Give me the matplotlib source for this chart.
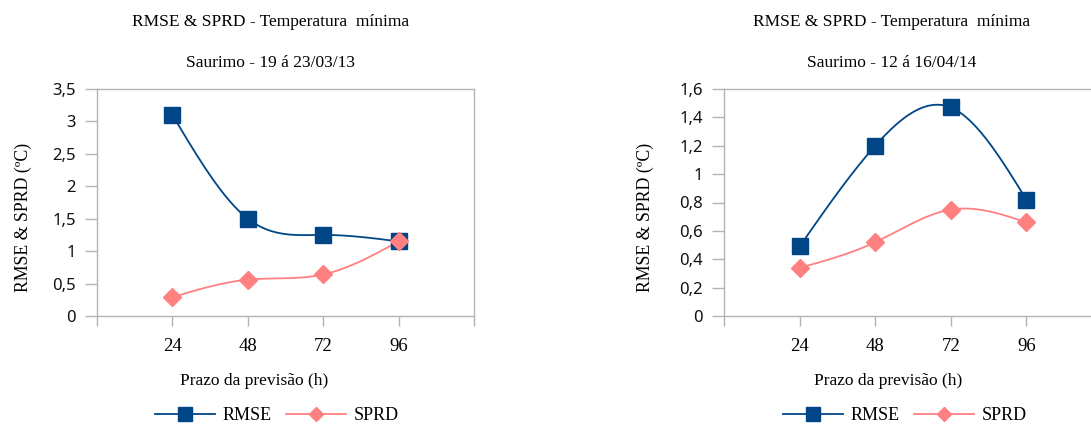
import numpy as np
import matplotlib
matplotlib.use("Agg")
import matplotlib.pyplot as plt
from matplotlib.lines import Line2D

# ---- data ----
categories = ["24", "48", "72", "96"]
rmse_2013 = [3.10, 1.50, 1.25, 1.15]
sprd_2013 = [0.29, 0.56, 0.64, 1.15]
rmse_2014 = [0.49, 1.20, 1.47, 0.82]
sprd_2014 = [0.34, 0.52, 0.75, 0.66]
title_main = "RMSE & SPRD - Temperatura  mínima"
subtitle_2013 = "Saurimo - 19 á 23/03/13"
subtitle_2014 = "Saurimo - 12 á 16/04/14"
xlabel = "Prazo da previsão (h)"
ylabel = "RMSE & SPRD (ºC)"
yticks_2013 = [0, 0.5, 1, 1.5, 2, 2.5, 3, 3.5]
yticks_2014 = [0, 0.2, 0.4, 0.6, 0.8, 1.0, 1.2, 1.4, 1.6]

BLUE = "#004586"
PINK = "#ff8080"
GRID = "#b3b3b3"
SERIF = "Liberation Serif"
SANS = "Noto Sans"

W, H = 1091, 425


def natural_spline(x, y, n=200):
    x = np.asarray(x, float)
    y = np.asarray(y, float)
    m = len(x)
    h = np.diff(x)
    A = np.zeros((m, m))
    b = np.zeros(m)
    A[0, 0] = 1
    A[-1, -1] = 1
    for i in range(1, m - 1):
        A[i, i - 1] = h[i - 1]
        A[i, i] = 2 * (h[i - 1] + h[i])
        A[i, i + 1] = h[i]
        b[i] = 3 * ((y[i + 1] - y[i]) / h[i] - (y[i] - y[i - 1]) / h[i - 1])
    c = np.linalg.solve(A, b)
    xs = np.linspace(x[0], x[-1], n)
    ys = np.empty_like(xs)
    for k, xv in enumerate(xs):
        i = min(np.searchsorted(x, xv, side="right") - 1, m - 2)
        dx = xv - x[i]
        bi = (y[i + 1] - y[i]) / h[i] - h[i] * (2 * c[i] + c[i + 1]) / 3
        di = (c[i + 1] - c[i]) / (3 * h[i])
        ys[k] = y[i] + bi * dx + c[i] * dx ** 2 + di * dx ** 3
    return xs, ys


fig = plt.figure(figsize=(W / 100, H / 100), dpi=100)


def px(x):
    return x / W


def py(y):
    return 1 - y / H


def make_panel(left_px, right_px, rmse, sprd, yticks, subtitle,
               title_cx, xlabel_cx, ylabel_x, legend_x0):
    top_px, bot_px = 89, 316
    ax = fig.add_axes([px(left_px), py(bot_px), px(right_px - left_px),
                       (bot_px - top_px) / H])
    xpos = np.arange(1, len(categories) + 1)
    xs, ys = natural_spline(xpos, rmse)
    ax.plot(xs, ys, color=BLUE, lw=1.3, zorder=3)
    ax.plot(xpos, rmse, ls="none", marker="s", ms=12, color=BLUE,
            mec=BLUE, zorder=4)
    xs, ys = natural_spline(xpos, sprd)
    ax.plot(xs, ys, color=PINK, lw=1.3, zorder=3)
    ax.plot(xpos, sprd, ls="none", marker="D", ms=9.5, color=PINK,
            mec=PINK, zorder=5)
    ax.set_xlim(0, 5)
    ax.set_ylim(yticks[0], yticks[-1])
    ax.set_yticks(yticks)
    ax.set_yticklabels([("%g" % v).replace(".", ",") for v in yticks],
                       fontfamily=SANS, fontsize=12)
    ax.set_xticks(xpos)
    ax.set_xticklabels(categories, fontfamily=SERIF, fontsize=13.5)
    ax.set_xticks([0, 1, 2, 3, 4, 5], minor=True)
    ax.tick_params(axis="x", which="both", length=7.5, width=1, color=GRID,
                   pad=8)
    ax.tick_params(axis="y", length=9, width=1, color=GRID, pad=6,
                   labelcolor="#111111")
    for s in ax.spines.values():
        s.set_color(GRID)
        s.set_linewidth(1)
    # texts
    fig.text(px(title_cx), py(22), title_main, ha="center", va="center",
             fontfamily=SERIF, fontsize=12.5)
    fig.text(px(title_cx), py(63), subtitle, ha="center", va="center",
             fontfamily=SERIF, fontsize=12.5)
    fig.text(px(xlabel_cx), py(381), xlabel, ha="center", va="center",
             fontfamily=SERIF, fontsize=12.5)
    fig.text(px(ylabel_x), py(217), ylabel, ha="center", va="center",
             rotation=90, fontfamily=SERIF, fontsize=12.8)
    # legend
    handles = [
        Line2D([], [], color=BLUE, lw=1.3, marker="s", ms=10, mec=BLUE),
        Line2D([], [], color=PINK, lw=1.3, marker="D", ms=7.5, mec=PINK),
    ]
    fig.legend(handles, ["RMSE", "SPRD"], loc="center left",
               bbox_to_anchor=(px(legend_x0), py(416)), ncol=2,
               frameon=False, handlelength=3.3, handletextpad=0.45,
               columnspacing=0.8, borderpad=0, borderaxespad=0,
               prop={"family": SERIF, "size": 13})
    return ax


make_panel(97, 474, rmse_2013, sprd_2013, yticks_2013, subtitle_2013,
           271, 254, 23, 155)
make_panel(724, 1102, rmse_2014, sprd_2014, yticks_2014, subtitle_2014,
           892, 888, 645, 783)

fig.savefig("out.png", dpi=100)
